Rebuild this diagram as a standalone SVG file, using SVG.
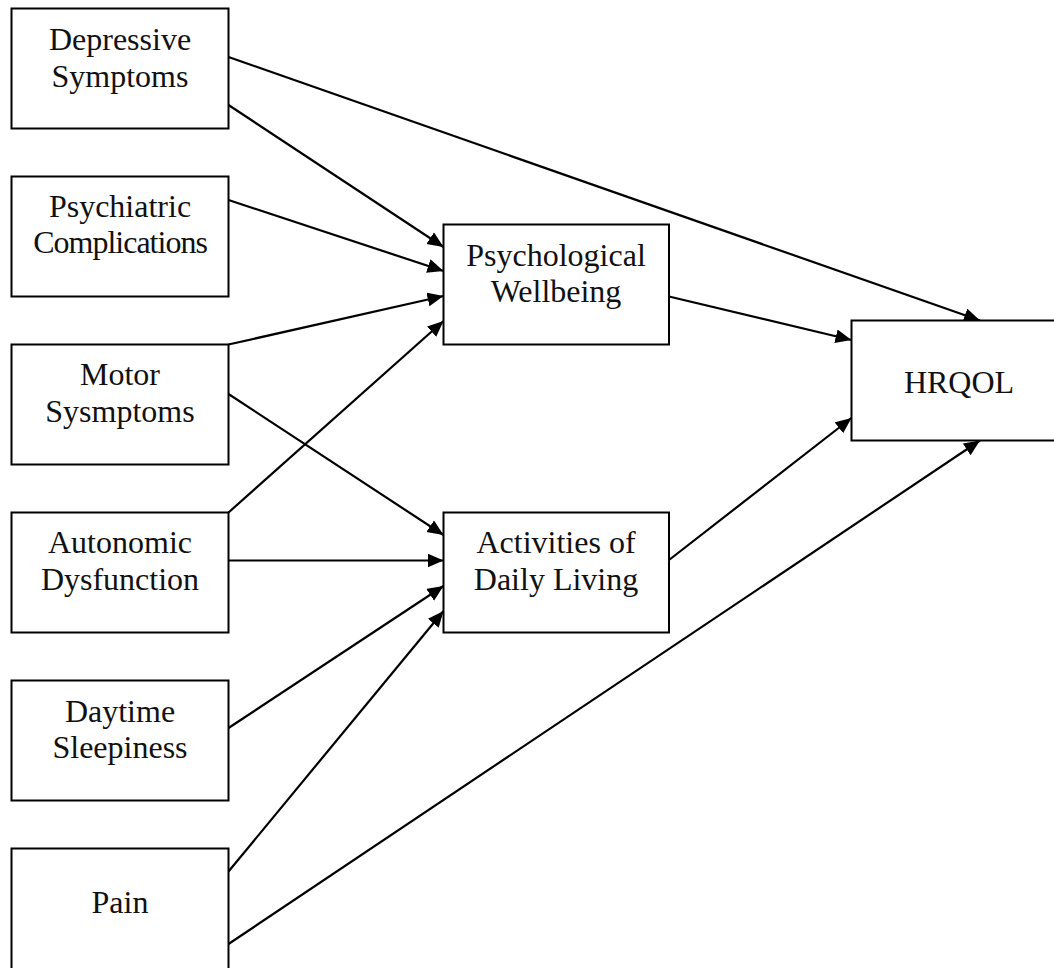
<svg xmlns="http://www.w3.org/2000/svg" width="1054" height="968" viewBox="0 0 1054 968">
  <style>
    .box { fill: #fff; stroke: #000; stroke-width: 2; }
    .lbl { font-family: "Liberation Serif", "Times New Roman", serif; font-size: 32px; fill: #111; text-anchor: middle; }
    .edge { stroke: #000; stroke-width: 2.2; fill: none; marker-end: url(#arrow); }
  </style>
  <defs>
    <marker id="arrow" markerUnits="userSpaceOnUse" markerWidth="17" markerHeight="15" refX="16" refY="7" orient="auto">
      <path d="M0,0 L16,7 L0,14 z" fill="#000"/>
    </marker>
  </defs>
  <rect width="1054" height="968" fill="#fff"/>

  <!-- connectors -->
  <g id="connectors">
    <line class="edge" x1="228.5" y1="57" x2="980" y2="320.5"/>
    <line class="edge" x1="228.5" y1="105" x2="443.5" y2="247"/>
    <line class="edge" x1="228.5" y1="200" x2="443.5" y2="271"/>
    <line class="edge" x1="228.5" y1="344.5" x2="443.5" y2="296"/>
    <line class="edge" x1="228.5" y1="394" x2="443.5" y2="535"/>
    <line class="edge" x1="228.5" y1="512.5" x2="443.5" y2="321"/>
    <line class="edge" x1="228.5" y1="560.5" x2="443.5" y2="560.5"/>
    <line class="edge" x1="228.5" y1="728" x2="443.5" y2="586"/>
    <line class="edge" x1="228.5" y1="871.5" x2="443.5" y2="611"/>
    <line class="edge" x1="228.5" y1="944" x2="980" y2="440.5"/>
    <line class="edge" x1="669" y1="296.5" x2="851.5" y2="340"/>
    <line class="edge" x1="669" y1="560" x2="851.5" y2="418"/>
  </g>

  <!-- predictors -->
  <g id="depressive">
    <rect class="box" x="11.5" y="8.5" width="217" height="120"/>
    <text class="lbl" x="120" y="50">Depressive</text>
    <text class="lbl" x="120" y="86.5">Symptoms</text>
  </g>
  <g id="psychiatric">
    <rect class="box" x="11.5" y="176.5" width="217" height="120"/>
    <text class="lbl" x="120" y="216.5">Psychiatric</text>
    <text class="lbl" x="120" y="253" letter-spacing="-1">Complications</text>
  </g>
  <g id="motor">
    <rect class="box" x="11.5" y="344.5" width="217" height="120"/>
    <text class="lbl" x="120" y="385">Motor</text>
    <text class="lbl" x="120" y="421.5">Sysmptoms</text>
  </g>
  <g id="autonomic">
    <rect class="box" x="11.5" y="512.5" width="217" height="120"/>
    <text class="lbl" x="120" y="553">Autonomic</text>
    <text class="lbl" x="120" y="589.5">Dysfunction</text>
  </g>
  <g id="daytime">
    <rect class="box" x="11.5" y="680.5" width="217" height="120"/>
    <text class="lbl" x="120" y="721.5">Daytime</text>
    <text class="lbl" x="120" y="758">Sleepiness</text>
  </g>
  <g id="pain">
    <rect class="box" x="11.5" y="848.5" width="217" height="130"/>
    <text class="lbl" x="120" y="913">Pain</text>
  </g>

  <!-- mediators -->
  <g id="wellbeing">
    <rect class="box" x="443.5" y="224.5" width="225.5" height="120"/>
    <text class="lbl" x="556" y="265.5">Psychological</text>
    <text class="lbl" x="556" y="301.5">Wellbeing</text>
  </g>
  <g id="adl">
    <rect class="box" x="443.5" y="512.5" width="225.5" height="120"/>
    <text class="lbl" x="556" y="553">Activities of</text>
    <text class="lbl" x="556" y="589.5">Daily Living</text>
  </g>

  <!-- outcome -->
  <g id="hrqol">
    <rect class="box" x="851.5" y="320.5" width="215" height="120"/>
    <text class="lbl" x="959" y="392.5">HRQOL</text>
  </g>
</svg>
